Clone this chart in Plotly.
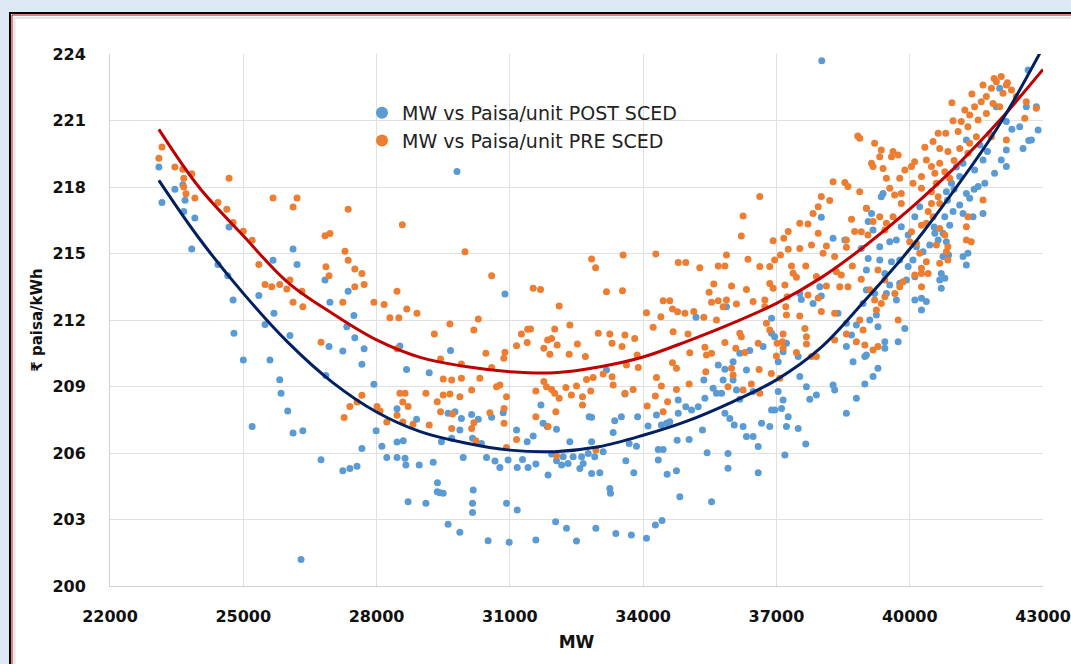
import plotly.graph_objects as go

# ---------------- data ----------------
post_mw = [
    23100, 23170, 23460, 23640, 23690, 23660, 23910, 23840, 24680, 24430, 24650, 24770, 24790, 25000, 25200,
    25350, 25670, 25690, 25490, 26120, 26210, 26050, 25600, 25820, 25850, 26000, 26120, 26340, 26300, 26840,
    26950, 27360, 27490, 27330, 27510, 26930, 27240, 27720, 27670, 26860, 27940, 26750, 27240, 27400, 27560,
    27670, 27990, 28120, 28230, 28460, 28460, 28460, 29810,
    30890, 28525, 28675, 29185, 29665, 28900, 28600, 28640, 28660, 28960, 29275, 29370, 29425, 29500, 28710,
    29110, 29610, 29765, 29910, 29875, 29460, 29690, 30140, 30290, 30590, 30850, 30160, 30360, 29950, 30475,
    30665, 30775, 30960, 31165, 31150, 31390, 31525, 31285, 31410, 31585, 31700, 31750, 31840, 32050, 31940,
    32050, 32200, 32310, 32425, 32165, 32350, 32615, 32650, 32575, 32765, 32910, 32840, 33100, 32785, 32840,
    33175, 33325, 33360, 33590, 33510, 33685, 33850, 33875, 34110, 34300, 34410, 34525, 34600, 34790, 34790,
    34960, 35090, 35240, 35390, 35575, 35365, 35690, 34765, 35035, 35335, 34340, 34450, 34340, 34540, 34750,
    33610, 33790, 32840, 33025, 31860, 33250, 33265, 34825, 35540, 35440, 30175, 30160, 30160, 30925, 31165,
    29610, 29875, 30510, 30985, 31585, 32030, 32275, 32500, 32935, 33385, 33735, 34075, 34275, 34425, 29365,
    35190, 35650,
    38010, 38275, 38540, 39025, 39140, 39065, 39065, 39175, 37975, 38010, 37825, 37525, 37560, 38385, 38575,
    38690, 38800, 39100, 39250, 38575, 38725, 39025, 39175, 38990, 35875, 36890, 36890, 36700, 37040, 37150,
    36960, 37225, 37490, 36400, 36175, 36025, 35840, 36325, 36025, 35800, 36100, 36175, 36475, 37040, 37150,
    37115, 36965, 36890, 37265, 37525, 37675, 37750, 37900, 38275, 38310, 38575, 38800, 35840, 35950, 36050,
    36250, 36475, 36665, 36850, 36325, 36590, 37225, 37490, 37660, 35910, 35910, 36590, 37190, 35765,
    42025, 42665, 42625, 42850, 41950, 42175, 42890, 42740, 42550, 42475, 42175, 42060, 42175, 41910, 41650,
    41460, 41540, 41690, 41275, 41200, 41125, 40940, 40825, 41275, 41350, 41125, 40975, 41200, 41425, 41650,
    40790, 40900, 40750, 40825, 40565, 40640, 40450, 40300, 40150, 40075, 39965, 39925, 40115, 40710, 40790,
    40675, 40710, 41310, 41275, 41200, 39550, 39325, 39700, 39775, 39590, 39965, 39810, 40115, 40225, 39400,
    39360, 38910, 39325, 39025, 39025, 39210, 39440, 39475, 39700, 40115, 40265, 40375, 38950,
    40265, 39890, 39740, 39440, 39440, 39285, 38990, 39285, 39550, 39775, 40875, 40750, 38020, 42680,
    41580, 41800, 41050, 40850, 41750, 42300, 41000, 40550, 41450,
]
post_paisa = [
    218.9, 217.3, 217.9, 218.1, 217.4, 216.9, 216.6, 215.2, 216.2, 214.5, 214.0, 212.9, 211.4, 210.2, 207.2,
    213.1, 214.7, 212.3, 211.8, 215.2, 214.5, 211.3, 210.2, 209.3, 208.7, 207.9, 206.9, 207.0, 201.2, 213.8,
    212.8, 213.3, 212.2, 211.7, 211.2, 210.8, 210.6, 210.7, 210.0, 209.5, 209.1, 205.7, 205.2, 205.3, 205.4,
    206.2, 207.0, 206.3, 205.8, 205.8, 206.5, 208.0, 218.7,
    213.17, 210.83, 209.77, 209.62, 210.62, 207.52, 206.55, 205.76, 205.46, 205.46, 205.58, 204.66, 204.21, 204.18, 203.8,
    203.73, 207.79, 207.86, 207.56, 207.04, 206.51, 206.66, 207.74, 207.52, 207.61, 207.82, 206.66, 206.43, 205.8, 205.8,
    205.64, 205.35, 205.68, 205.35, 207.04, 206.51, 206.77, 205.71, 205.35, 205.5, 208.16, 207.34, 207.19, 207.07, 205.95,
    205.65, 205.83, 205.53, 205.83, 205.46, 206.51, 205.83, 205.53, 205.3, 205.98, 205.83, 206.51, 206.06, 207.64, 207.61,
    209.74, 206.92, 207.46, 208.66, 207.64, 206.43, 206.31, 207.64, 207.22, 207.71, 207.26, 207.34, 207.41, 208.39, 207.79,
    208.09, 207.94, 208.09, 208.47, 208.92, 209.29, 209.97, 206.58, 206.61, 207.04, 206.16, 206.16, 205.68, 205.04, 205.2,
    205.65, 205.11, 205.08, 205.11, 205.01, 204.4, 204.18, 204.03, 203.8, 206.01, 204.33, 203.73, 203.32, 203.73, 203.43,
    202.79, 202.42, 202.04, 201.97, 202.07, 202.9, 202.6, 202.03, 202.6, 202.37, 202.3, 202.15, 202.75, 202.95, 204.25,
    212.12, 208.69,
    216.63, 215.69, 215.61, 217.04, 216.81, 216.44, 214.78, 216.06, 213.5, 213.08, 212.75, 213.2, 212.93, 212.3, 211.85,
    211.32, 211.77, 212.0, 212.22, 210.8, 210.12, 210.42, 209.45, 209.11, 212.6, 212.08, 211.4, 210.8, 210.12, 210.57,
    211.25, 210.95, 210.35, 210.62, 210.5, 210.12, 209.78, 209.74, 209.29, 209.29, 208.84, 208.42, 208.77, 208.77, 208.39,
    208.01, 207.94, 207.94, 207.64, 209.45, 208.99, 208.42, 208.62, 209.07, 208.84, 207.79, 208.47, 207.79, 207.56, 207.26,
    207.19, 206.74, 207.34, 207.19, 206.74, 206.29, 207.19, 207.11, 206.41, 205.98, 205.31, 205.11, 205.91, 208.69,
    222.45, 223.28, 221.62, 221.62, 221.62, 220.95, 220.57, 220.12, 219.74, 220.72, 219.67, 219.22, 218.92, 218.62, 219.22,
    218.77, 218.02, 218.17, 220.12, 219.07, 218.47, 218.17, 217.79, 217.71, 217.49, 217.19, 216.89, 216.81, 216.66, 216.81,
    216.66, 216.28, 215.91, 215.53, 215.91, 215.61, 215.38, 215.08, 215.31, 214.71, 214.41, 213.8, 213.95, 214.1, 213.88,
    213.8, 213.43, 215.01, 214.48, 214.86, 215.53, 215.31, 215.61, 214.71, 214.63, 215.83, 216.21, 216.66, 217.11, 217.71,
    217.56, 215.23, 214.71, 214.26, 213.35, 213.2, 214.1, 213.2, 212.9, 212.9, 212.98, 212.83, 212.75,
    212.45, 211.62, 211.02, 211.02, 210.72, 211.7, 210.35, 209.82, 213.58, 213.66, 214.93, 214.86, 223.7, 220.1,
    219.9, 220.4, 218.9, 217.4, 219.6, 220.6, 217.9, 216.2, 217.9,
]

pre_mw = [
    23170, 23100, 23460, 23640, 23660, 23840, 23660, 23710, 23910, 24680, 24430, 24630, 24770, 25000, 25200,
    25670, 26120, 26210, 25350, 25490, 25640, 25820, 26050, 25980, 26320, 26120, 26340, 26840, 26950, 27360,
    26860, 26930, 27290, 27360, 27510, 27670, 27510, 27720, 27240, 27940, 28170, 28300, 28500, 28460, 28580,
    28680, 28910, 26750, 28460, 27670, 27560, 27400, 27270, 28010, 28080, 28230, 28460, 28640, 28590, 28710,
    28590, 28820,
    29990, 30590, 30290, 29650, 29300, 30190, 29440, 29910, 30460, 30590, 30890, 30865, 31150, 31260, 31400,
    31465, 31390, 31525, 31690, 32110, 32010, 32350, 31850, 31940, 31765, 32065, 31900, 32520, 32335, 32700,
    32840, 32930, 33550, 34285, 33175, 33535, 32990, 33250, 33300, 33525, 33590, 33810, 33865, 33625, 33890,
    34075, 34225, 34400, 34450, 34600, 34660, 34775, 34940, 34790, 34960, 35275, 35590, 35485, 35540, 35690,
    35140, 35365, 34675, 35010, 35050, 35390, 35540, 34660, 34750, 35410, 28525, 29110, 29365, 29500, 29650,
    29875, 30140, 29440, 29710, 29185, 29690, 30140, 30190, 30550, 29500, 29690, 29910, 30325, 30700, 30775,
    30925, 30870, 30870, 31150, 30925, 30235, 31585, 31585, 31860, 31765, 31825, 31940, 32010, 32035, 32110,
    32260, 32385, 32500, 32635, 32635, 32820, 32725, 32875, 33100, 33300, 33325, 33775, 33590, 34090, 34275,
    34410, 34300, 34550, 34450, 34750, 35035, 32050, 32935,
    35690, 35650, 35425,
    39140, 38275, 38540, 38610, 36625, 38010, 38200, 37940, 37825, 36250, 37525, 37710, 37940, 37265, 36210,
    36925, 37165, 38690, 38760, 38575, 38125, 37525, 37790, 37265, 37090, 36960, 38050, 38310, 38575, 35875,
    36360, 35840, 36625, 36850, 37340, 37660, 37375, 37450, 37900, 38350, 38710, 38460, 38910, 35990, 36325,
    36850, 36925, 37190, 35875, 35800, 36100, 36475, 36740, 37240, 37710, 38125, 38425, 38610, 36740, 37210,
    37525, 37940, 38010, 38310, 38875, 38950, 36775, 36850, 37225, 36175, 36210, 35840, 36085, 36290, 36590,
    37015, 37135, 37150, 37150, 37450, 37675, 37675, 37640, 37790, 37900, 38310, 38575, 38800, 38990, 39175,
    37000, 36025, 35990, 36610, 36885, 37075, 36435, 36625, 35910, 36250,
    42060, 41950, 42175, 41840, 42100, 42290, 41725, 41610, 41875, 42025, 41460, 41350, 41240, 41725, 41540,
    41160, 40975, 41090, 41310, 41500, 40640, 40810, 41840, 42400, 42625, 42850, 42590, 42175, 40525, 40340,
    40675, 40860, 41125, 41310, 41350, 39360, 39325, 39625, 39740, 39175, 39400, 39590, 40110, 40040, 39890,
    40375, 40490, 40565, 40675, 40790, 40900, 40265, 39775, 39475, 40075, 40600, 39550, 39810, 39660, 40265,
    40490, 40640, 38875, 39210, 38875, 39025, 39325, 39175, 39475, 39625, 39440, 39810, 40490, 40675, 40415,
    40525, 40375, 40265, 40675, 40790, 40600, 40860, 40825, 41650, 41310, 41275, 41275, 41385, 40040, 40000,
    40150, 40225, 40375, 40675, 40265, 40415, 38910, 39060, 39285, 39440, 39665, 39360, 40265,
    40860, 40115, 40265, 39850, 39775, 39440, 39210, 39250, 39100, 39740, 39285, 38830,
    41900, 42200, 41650, 41400, 40950, 41000,
]
pre_paisa = [
    219.8, 219.3, 218.9, 218.8, 218.4, 218.6, 218.0, 217.7, 217.5, 218.4, 217.3, 217.0, 216.4, 216.0, 215.6,
    217.5, 217.1, 217.5, 214.5, 213.6, 213.5, 213.6, 213.8, 213.4, 213.3, 212.8, 212.6, 215.8, 215.9, 217.0,
    214.4, 214.0, 215.1, 214.7, 214.3, 214.1, 213.5, 213.6, 212.8, 212.8, 212.7, 212.1, 212.1, 213.3, 216.3,
    212.5, 212.3, 211.0, 210.7, 208.6, 208.3, 208.1, 207.6, 208.1, 207.9, 207.4, 207.7, 208.7, 208.3, 208.1,
    207.4, 207.3,
    215.08, 214.0, 212.04, 211.82, 211.37, 211.55, 210.24, 210.01, 210.5, 209.86, 210.54, 210.27, 210.84, 211.37, 211.58,
    211.59, 210.98, 213.43, 213.38, 212.63, 211.59, 211.77, 211.1, 211.17, 210.72, 210.87, 210.46, 210.92, 210.46, 210.35,
    214.75, 214.36, 214.93, 214.98, 213.28, 213.32, 211.4, 211.37, 210.95, 210.8, 211.32, 211.17, 210.42, 209.97, 209.86,
    212.33, 211.67, 212.15, 212.87, 212.87, 212.5, 212.37, 212.3, 214.59, 214.59, 214.36, 213.62, 213.25, 212.8, 212.87,
    212.38, 212.12, 211.47, 211.37, 210.52, 210.77, 210.5, 210.07, 209.82, 209.67, 208.69, 208.69, 208.31, 208.62, 208.66,
    208.54, 208.84, 207.86, 207.76, 207.26, 207.11, 207.11, 207.37, 207.82, 209.34, 209.29, 209.37, 209.37, 208.99, 209.07,
    208.54, 208.01, 207.34, 206.61, 206.25, 206.55, 208.8, 207.64, 207.19, 209.22, 208.99, 208.87, 208.69, 207.86, 208.47,
    208.96, 208.62, 209.02, 208.54, 208.16, 208.8, 209.32, 209.41, 209.56, 209.44, 209.07, 208.87, 208.69, 208.12, 208.57,
    209.02, 209.41, 208.31, 207.86, 208.87, 209.11, 205.88, 206.13,
    214.44, 212.0, 210.42,
    219.07, 218.24, 218.2, 218.02, 217.57, 217.57, 217.39, 217.11, 216.81, 216.69, 216.36, 216.33, 215.91, 215.99, 215.79,
    215.57, 215.69, 216.54, 215.99, 215.61, 215.34, 215.23, 215.38, 215.19, 214.93, 214.71, 215.01, 214.86, 215.28, 214.93,
    214.74, 214.44, 214.41, 214.41, 214.44, 214.44, 214.11, 213.93, 213.96, 214.18, 214.44, 214.03, 213.84, 213.53, 213.38,
    213.65, 213.43, 213.58, 212.9, 212.6, 212.72, 212.83, 212.9, 213.05, 213.13, 213.53, 213.5, 213.5, 212.6, 212.6,
    212.18, 212.99, 212.38, 212.3, 212.0, 211.55, 211.85, 211.55, 212.22, 211.4, 211.25, 210.98, 210.72, 210.53, 210.95,
    210.95, 211.02, 211.37, 210.72, 210.53, 210.92, 211.25, 211.62, 210.35, 210.35, 211.1, 211.37, 211.02, 210.87, 210.65,
    210.38, 209.52, 209.82, 209.77, 209.59, 209.37, 209.11, 208.69, 208.99, 208.84,
    222.98, 222.75, 222.6, 222.45, 222.23, 222.38, 222.08, 221.85, 221.77, 221.62, 221.62, 221.25, 221.47, 221.32, 221.02,
    220.95, 220.99, 220.5, 220.72, 220.27, 220.42, 220.42, 220.27, 222.08, 221.85, 221.55, 221.1, 220.12, 220.05, 219.79,
    219.74, 219.6, 219.74, 219.52, 219.97, 219.67, 219.37, 219.6, 219.44, 218.92, 218.84, 219.37, 219.14, 218.92, 218.77,
    219.22, 218.92, 218.62, 219.07, 218.69, 218.39, 218.47, 218.39, 218.39, 218.17, 218.17, 217.94, 217.71, 217.64, 217.94,
    217.79, 217.56, 220.2, 219.97, 217.79, 217.04, 216.66, 216.44, 216.36, 216.66, 216.06, 217.26, 217.26, 217.26, 216.89,
    216.66, 216.36, 216.28, 216.13, 215.83, 215.38, 215.31, 215.08, 217.41, 216.66, 216.21, 215.61, 215.53, 215.98, 215.53,
    215.46, 215.01, 214.63, 214.56, 214.1, 214.1, 215.98, 215.83, 214.26, 213.8, 213.2, 212.75, 213.5,
    214.71, 214.03, 214.33, 213.73, 213.5, 213.05, 212.9, 212.45, 213.36, 212.0, 210.8, 220.3,
    222.9, 222.7, 222.6, 222.2, 221.8, 219.2,
]

# trend lines
trend_mw = [23100, 24000, 25000, 26000, 27000, 28000, 29000, 30000, 31000, 32000, 33000,
            34000, 35000, 36000, 37000, 38000, 39000, 40000, 41000, 42000, 43000]
trend_pre = [220.6, 218.0, 215.8, 213.7, 212.3, 211.1, 210.3, 209.9, 209.67, 209.62, 209.88,
             210.33, 211.05, 211.85, 212.75, 213.9, 215.35, 217.0, 218.85, 220.95, 223.3]
trend_post = [218.3, 215.7, 213.2, 211.0, 209.2, 207.85, 206.95, 206.45, 206.13, 206.06, 206.28,
              206.8, 207.45, 208.3, 209.3, 210.75, 212.9, 215.2, 217.85, 220.75, 224.3]

x_ticks = [22000, 25000, 28000, 31000, 34000, 37000, 40000, 43000]
y_ticks = [200, 203, 206, 209, 212, 215, 218, 221, 224]

# ---------------- figure ----------------
W, H = 1071, 664
L, R, T, B = 110, 1043, 54, 586


def px(x):
    return (x - L) / (R - L)


def py(y):
    return (B - y) / (B - T)


fig = go.Figure()
fig.add_trace(go.Scatter(
    x=post_mw, y=post_paisa, mode="markers", name="MW vs Paisa/unit POST SCED",
    marker=dict(color="#5B9BD5", size=7, line=dict(width=0)),
))
fig.add_trace(go.Scatter(
    x=pre_mw, y=pre_paisa, mode="markers", name="MW vs Paisa/unit PRE SCED",
    marker=dict(color="#ED7D31", size=7, line=dict(width=0)),
))
fig.add_trace(go.Scatter(
    x=trend_mw, y=trend_pre, mode="lines", line=dict(color="#C00000", width=3, shape="spline"),
    showlegend=False, hoverinfo="skip",
))
fig.add_trace(go.Scatter(
    x=trend_mw, y=trend_post, mode="lines", line=dict(color="#002060", width=3, shape="spline"),
    showlegend=False, hoverinfo="skip",
))

PAGE_BLUE = "#DDE8F4"


def corner_path(x, y):
    # open path: from the bottom edge up the left side, then along the top to the right edge
    return (f"M {px(x)} {py(H)} L {px(x)} {py(y)} L {px(W)} {py(y)}")


shapes = [
    dict(type="rect", xref="paper", yref="paper", layer="above",
         x0=px(0), x1=px(W), y0=py(12), y1=py(0), fillcolor=PAGE_BLUE, line=dict(width=0)),
    dict(type="rect", xref="paper", yref="paper", layer="above",
         x0=px(0), x1=px(9), y0=py(H), y1=py(0), fillcolor=PAGE_BLUE, line=dict(width=0)),
    dict(type="path", xref="paper", yref="paper", layer="above", path=corner_path(10, 13),
         line=dict(color="black", width=2)),
    dict(type="path", xref="paper", yref="paper", layer="above", path=corner_path(12, 15),
         line=dict(color="#C00000", width=1)),
    dict(type="path", xref="paper", yref="paper", layer="above", path=corner_path(14.5, 18),
         line=dict(color="#E6E6E6", width=2)),
]

tick_font = dict(family="DejaVu Sans", size=16, color="#111111", weight="bold")

fig.update_layout(
    width=W, height=H,
    margin=dict(l=L, r=W - R, t=T, b=H - B, pad=0, autoexpand=False),
    paper_bgcolor="white",
    plot_bgcolor="white",
    shapes=shapes,
    showlegend=True,
    legend=dict(
        x=px(362), y=py(94), xanchor="left", yanchor="top",
        bgcolor="rgba(0,0,0,0)", borderwidth=0,
        font=dict(family="DejaVu Sans", size=19, color="#222222"),
        itemsizing="constant", tracegroupgap=0,
    ),
    xaxis=dict(
        range=[22000, 43000], tickvals=x_ticks, ticktext=[str(v) for v in x_ticks],
        automargin=False,
        showgrid=True, gridcolor="#E0E0E0", gridwidth=1,
        showline=True, linecolor="#D0D0D0", linewidth=1, mirror=False,
        zeroline=False, ticks="", ticklabelstandoff=16, tickfont=tick_font,
        title=dict(text="MW", font=dict(family="DejaVu Sans", size=17, color="#111111", weight="bold"),
                   standoff=10),
    ),
    yaxis=dict(
        range=[200, 224], tickvals=y_ticks, ticktext=[str(v) for v in y_ticks],
        automargin=False,
        showgrid=True, gridcolor="#E0E0E0", gridwidth=1,
        showline=True, linecolor="#D0D0D0", linewidth=1,
        zeroline=False, ticks="", ticklabelstandoff=20, tickfont=tick_font,
        title=dict(text="₹ paisa/kWh", font=dict(family="DejaVu Sans", size=15, color="#111111", weight="bold"),
                   standoff=6),
    ),
)

fig.write_html("out.html")
